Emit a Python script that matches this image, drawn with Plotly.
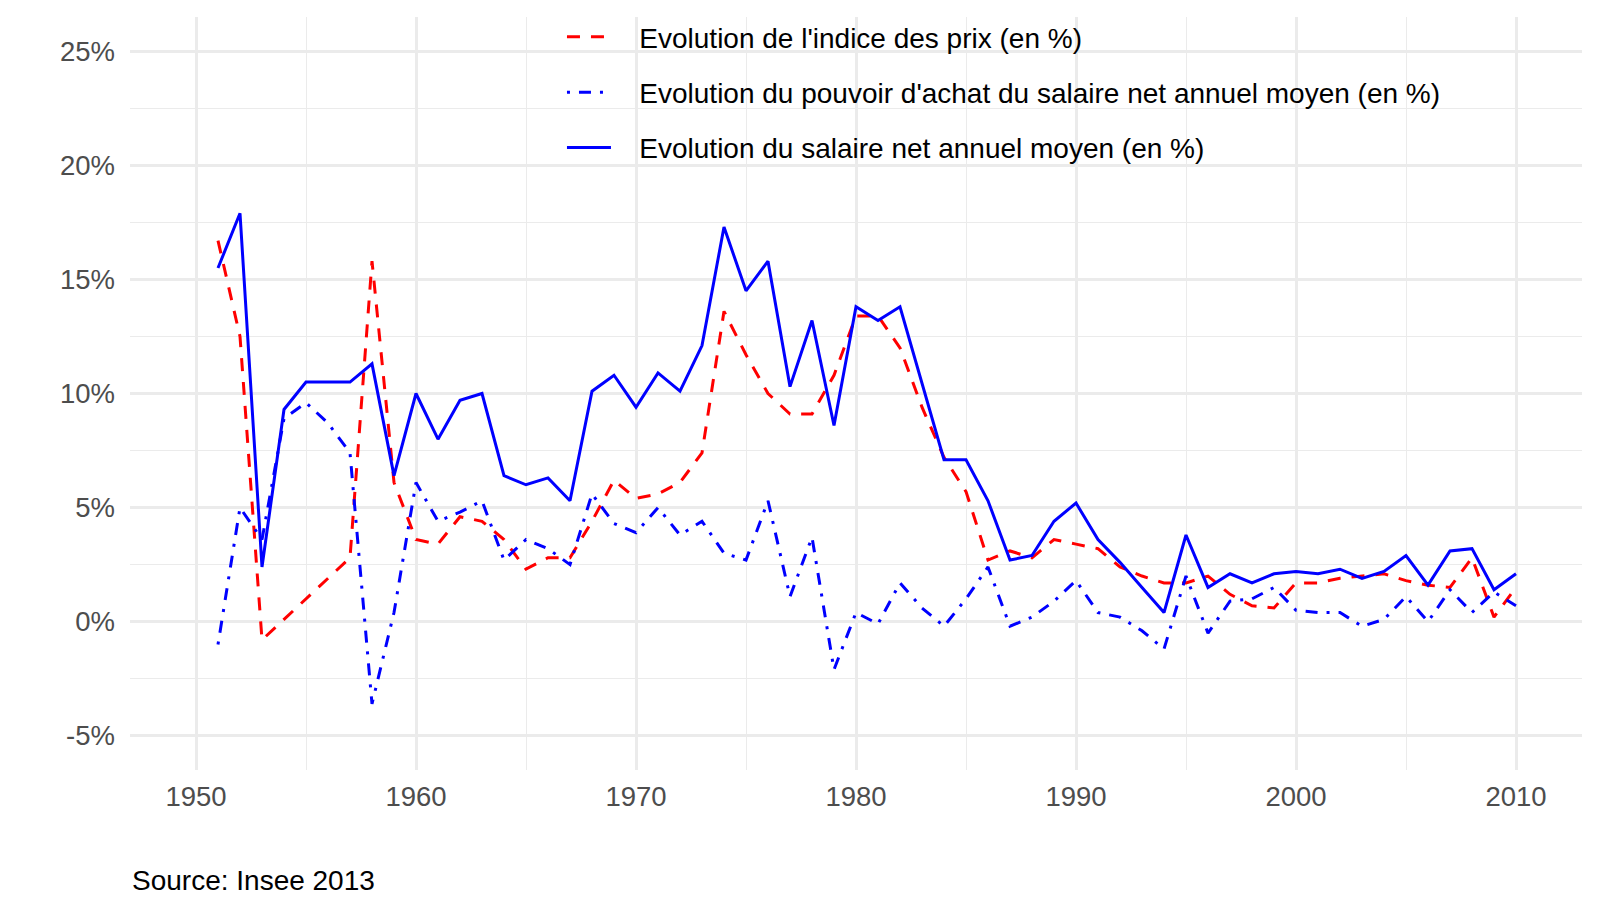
import plotly.graph_objects as go

years = list(range(1951, 2011))

prix = [16.7, 12.5, -0.8, 0.1, 1.0, 1.9, 2.8, 15.8, 6.1, 3.6,
        3.4, 4.6, 4.4, 3.6, 2.3, 2.8, 2.8, 4.4, 6.2, 5.4,
        5.6, 6.1, 7.4, 13.6, 11.7, 10.0, 9.1, 9.1, 10.8, 13.4,
        13.4, 12.0, 9.4, 7.2, 5.7, 2.7, 3.1, 2.8, 3.6, 3.4,
        3.2, 2.4, 2.0, 1.7, 1.7, 2.0, 1.2, 0.7, 0.6, 1.7,
        1.7, 1.9, 2.0, 2.1, 1.8, 1.6, 1.5, 2.8, 0.2, 1.5]

pouvoir = [-1.0, 5.0, 3.6, 8.9, 9.6, 8.7, 7.4, -3.6, 0.4, 6.1,
           4.4, 4.8, 5.3, 2.7, 3.6, 3.2, 2.5, 5.6, 4.3, 3.9,
           5.0, 3.8, 4.4, 3.0, 2.7, 5.3, 1.1, 3.7, -2.1, 0.4,
           -0.1, 1.7, 0.6, -0.2, 1.0, 2.4, -0.2, 0.2, 0.9, 1.8,
           0.4, 0.2, -0.4, -1.2, 2.0, -0.5, 0.9, 1.0, 1.5, 0.5,
           0.4, 0.4, -0.2, 0.1, 1.1, 0.0, 1.4, 0.4, 1.3, 0.7]

salaire = [15.5, 17.9, 2.4, 9.3, 10.5, 10.5, 10.5, 11.3, 6.4, 10.0,
           8.0, 9.7, 10.0, 6.4, 6.0, 6.3, 5.3, 10.1, 10.8, 9.4,
           10.9, 10.1, 12.1, 17.3, 14.5, 15.8, 10.3, 13.2, 8.6, 13.8,
           13.2, 13.8, 10.4, 7.1, 7.1, 5.3, 2.7, 2.9, 4.4, 5.2,
           3.6, 2.6, 1.5, 0.4, 3.8, 1.5, 2.1, 1.7, 2.1, 2.2,
           2.1, 2.3, 1.9, 2.2, 2.9, 1.6, 3.1, 3.2, 1.4, 2.1]

series_names = ["Evolution de l'indice des prix (en %)",
                "Evolution du pouvoir d'achat du salaire net annuel moyen (en %)",
                "Evolution du salaire net annuel moyen (en %)"]

x_ticks = [1950, 1960, 1970, 1980, 1990, 2000, 2010]
x_minor = [1955, 1965, 1975, 1985, 1995, 2005]
y_ticks = [-5, 0, 5, 10, 15, 20, 25]
y_ticklabels = ["-5%", "0%", "5%", "10%", "15%", "20%", "25%"]
y_minor = [-2.5, 2.5, 7.5, 12.5, 17.5, 22.5]

FONT = "Liberation Sans, Arial, Helvetica, sans-serif"
GRID = "#EBEBEB"
PAD = "\u00a0\u00a0\u00a0"

fig = go.Figure()
fig.add_trace(go.Scatter(x=years, y=prix, mode="lines", name=PAD + series_names[0],
                         legendgroup="g1",
                         line=dict(color="#FF0000", width=3, dash="13px,11px")))
fig.add_trace(go.Scatter(x=years, y=pouvoir, mode="lines", name=PAD + series_names[1],
                         legendgroup="g2",
                         line=dict(color="#0000FF", width=3, dash="3px,9px,12px,9px")))
fig.add_trace(go.Scatter(x=years, y=salaire, mode="lines", name=PAD + series_names[2],
                         legendgroup="g3",
                         line=dict(color="#0000FF", width=3)))

fig.update_layout(
    width=1600, height=914,
    margin=dict(l=130, r=18, t=17, b=144),
    plot_bgcolor="white", paper_bgcolor="white",
    font=dict(family=FONT, size=28, color="black"),
    showlegend=True,
    legend=dict(x=0.2975, y=1.0066, xanchor="left", yanchor="top",
                bgcolor="rgba(0,0,0,0)", borderwidth=0,
                font=dict(family=FONT, size=28, color="black"),
                tracegroupgap=16, itemwidth=44),
    annotations=[dict(text="Source: Insee 2013", xref="paper", yref="paper",
                      x=0, y=-0.147, xanchor="left", yanchor="middle",
                      showarrow=False, font=dict(family=FONT, size=28, color="black"))],
)

fig.update_xaxes(range=[1947, 2013], tickmode="array", tickvals=x_ticks,
                 ticktext=[str(v) for v in x_ticks],
                 showgrid=True, gridcolor=GRID, gridwidth=2.7,
                 minor=dict(tickmode="array", tickvals=x_minor, showgrid=True,
                            gridcolor=GRID, gridwidth=1.4, ticks=""),
                 zeroline=False, showline=False, ticks="",
                 ticklabelstandoff=7,
                 tickfont=dict(family=FONT, size=27.5, color="#4D4D4D"))
fig.update_yaxes(range=[-6.5, 26.5], tickmode="array", tickvals=y_ticks,
                 ticktext=y_ticklabels,
                 showgrid=True, gridcolor=GRID, gridwidth=2.7,
                 minor=dict(tickmode="array", tickvals=y_minor, showgrid=True,
                            gridcolor=GRID, gridwidth=1.4, ticks=""),
                 zeroline=False, showline=False, ticks="",
                 ticklabelstandoff=14,
                 tickfont=dict(family=FONT, size=27.5, color="#4D4D4D"))

fig.write_html("out.html", config={"displayModeBar": False},
               post_script="document.body.style.margin='0';document.body.style.overflow='hidden';")
